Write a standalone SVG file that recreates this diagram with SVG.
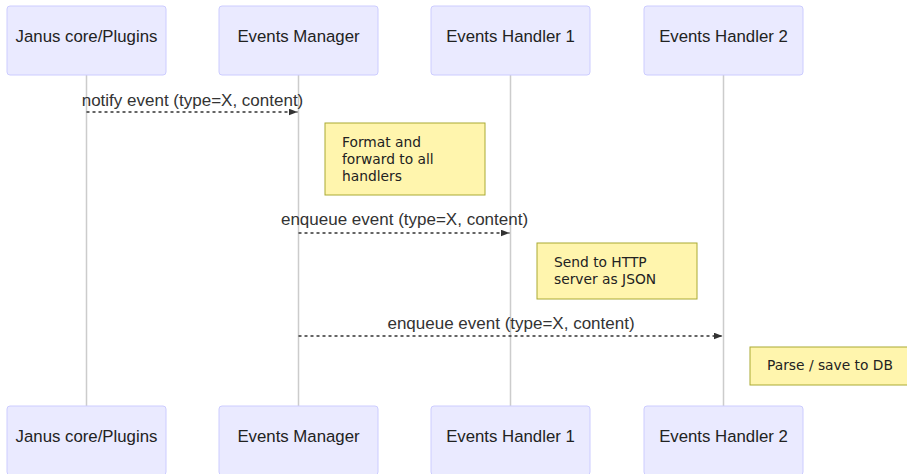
<svg xmlns="http://www.w3.org/2000/svg" width="907" height="474" viewBox="0 0 907 474">
<defs>
<style>
.actor{fill:#eaeaff;stroke:#ccccff;stroke-width:1}
.atext{font-family:"Liberation Sans",Arial,sans-serif;font-size:16.8px;fill:#222;text-anchor:middle;dominant-baseline:central}
.life{stroke:#cccccc;stroke-width:1.5}
.msg{stroke:#333;stroke-width:1.5;stroke-dasharray:3,3;fill:none}
.mtext{font-family:"Liberation Sans",Arial,sans-serif;font-size:17px;fill:#333;text-anchor:middle}
.note{fill:#fff5ad;stroke:#aaaa33;stroke-width:1}
.ntext{font-family:"DejaVu Sans",Verdana,sans-serif;font-size:13.8px;fill:#222}
</style>
<marker id="ah" markerWidth="9" markerHeight="7" refX="9" refY="3.5" orient="auto" markerUnits="userSpaceOnUse" viewBox="0 0 9 7">
<path d="M0,0 L9,3.5 L0,7 z" fill="#333"/>
</marker>
</defs>
<rect width="907" height="474" fill="#ffffff"/>
<g id="lifelines">
<line class="life" x1="86.5" y1="75" x2="86.5" y2="406"/>
<line class="life" x1="298.5" y1="75" x2="298.5" y2="406"/>
<line class="life" x1="510.5" y1="75" x2="510.5" y2="406"/>
<line class="life" x1="723.5" y1="75" x2="723.5" y2="406"/>
</g>
<g id="actor-janus-top"><rect class="actor" x="7" y="6" width="159" height="69" rx="3"/><text class="atext" x="86.5" y="36">Janus core/Plugins</text></g>
<g id="actor-em-top"><rect class="actor" x="219" y="6" width="159" height="69" rx="3"/><text class="atext" x="298.5" y="36">Events Manager</text></g>
<g id="actor-eh1-top"><rect class="actor" x="431" y="6" width="159" height="69" rx="3"/><text class="atext" x="510.5" y="36">Events Handler 1</text></g>
<g id="actor-eh2-top"><rect class="actor" x="644" y="6" width="159" height="69" rx="3"/><text class="atext" x="723.5" y="36">Events Handler 2</text></g>
<g id="actor-janus-bottom"><rect class="actor" x="7" y="406" width="159" height="69" rx="3"/><text class="atext" x="86.5" y="436">Janus core/Plugins</text></g>
<g id="actor-em-bottom"><rect class="actor" x="219" y="406" width="159" height="69" rx="3"/><text class="atext" x="298.5" y="436">Events Manager</text></g>
<g id="actor-eh1-bottom"><rect class="actor" x="431" y="406" width="159" height="69" rx="3"/><text class="atext" x="510.5" y="436">Events Handler 1</text></g>
<g id="actor-eh2-bottom"><rect class="actor" x="644" y="406" width="159" height="69" rx="3"/><text class="atext" x="723.5" y="436">Events Handler 2</text></g>
<g id="connectors">
<line class="msg" x1="86.5" y1="112" x2="297.5" y2="112" marker-end="url(#ah)"/>
<text class="mtext" x="192.5" y="106">notify event (type=X, content)</text>
<line class="msg" x1="298.5" y1="233" x2="509.5" y2="233" marker-end="url(#ah)"/>
<text class="mtext" x="404.5" y="225">enqueue event (type=X, content)</text>
<line class="msg" x1="298.5" y1="336" x2="722.5" y2="336" marker-end="url(#ah)"/>
<text class="mtext" x="511" y="329">enqueue event (type=X, content)</text>
</g>
<g id="note-format"><rect class="note" x="325" y="123" width="160" height="72"/><text class="ntext" x="342" y="147">Format and</text><text class="ntext" x="342" y="164">forward to all</text><text class="ntext" x="342" y="181">handlers</text></g>
<g id="note-http"><rect class="note" x="537" y="243" width="160" height="56"/><text class="ntext" x="554" y="267">Send to HTTP</text><text class="ntext" x="554" y="284">server as JSON</text></g>
<g id="note-db"><rect class="note" x="750" y="347" width="160" height="38"/><text class="ntext" x="767" y="370">Parse / save to DB</text></g>
</svg>
